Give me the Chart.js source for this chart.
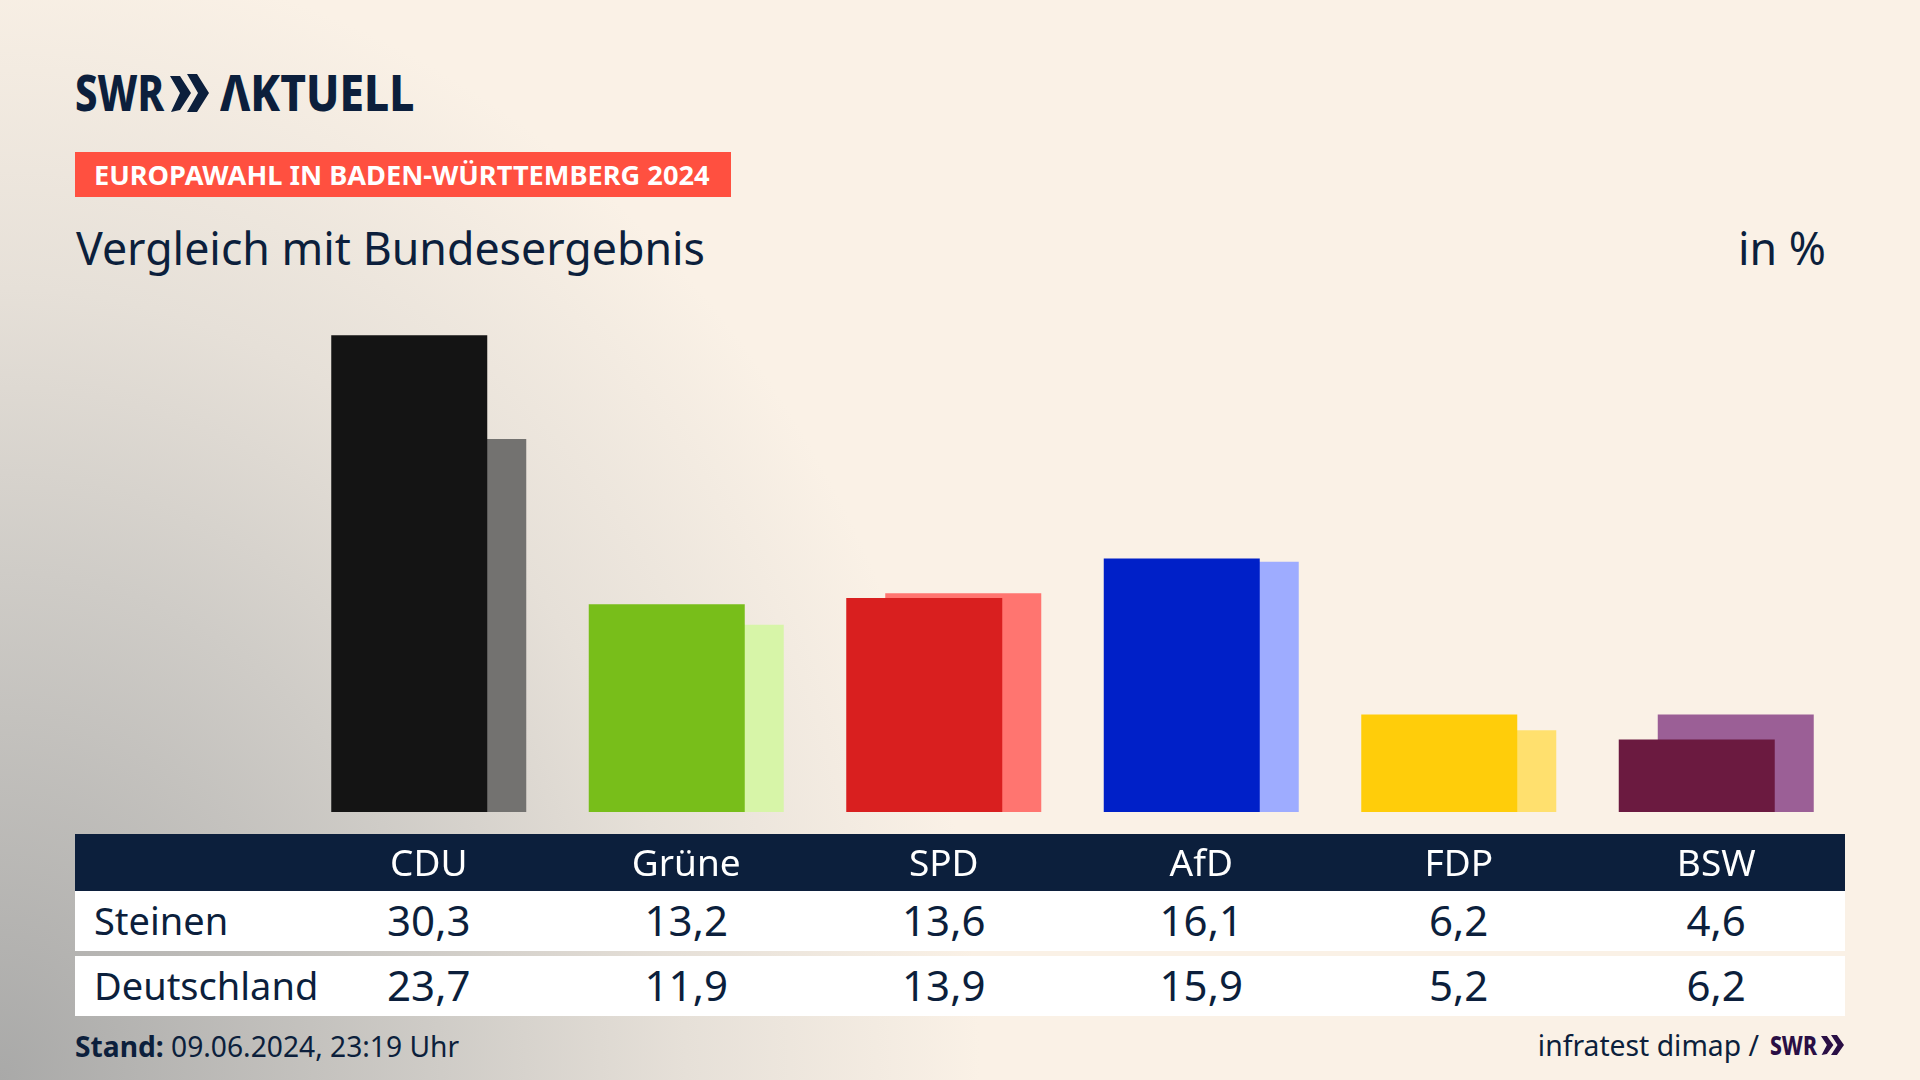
<!DOCTYPE html>
<html lang="de">
<head>
<meta charset="utf-8">
<title>Europawahl in Baden-Württemberg 2024</title>
<script src="https://cdn.jsdelivr.net/npm/chart.js@4/dist/chart.umd.min.js"></script>
<style>
  html, body { margin: 0; padding: 0; }
  body {
    width: 1920px; height: 1080px; position: relative; overflow: hidden;
    font-family: "Noto Sans", sans-serif; color: #0c1f3c;
    background: #faf1e6 radial-gradient(ellipse 980px 1130px at 0 1080px, #a9a9a8 0%, #cfccc7 45%, #e6e0d8 70%, #faf1e6 100%);
  }
  .abs { position: absolute; white-space: nowrap; }
  #logo { left: 75px; top: 74px; height: 37px; width: 340px; }
  #logo span { position: absolute; top: -17px; font-weight: 800; font-size: 50px; line-height: 70px; transform-origin: left center; }
  #logo svg { position: absolute; left: 95px; top: 0; }
  #band { left: 75px; top: 152px; width: 656px; height: 45px; background: #ff5040; color: #fff; font-weight: 700; font-size: 27.2px; line-height: 45px; }
  #band span { position: absolute; left: 19px; }
  #title { left: 76px; top: 216px; font-size: 44.7px; line-height: 64px; }
  #unit { right: 94px; top: 216px; font-size: 44.7px; line-height: 64px; }
  #head { left: 75px; top: 834px; width: 1770px; height: 57px; background: #0c1f3c; }
  #chart { position: absolute; left: 300px; top: 309px; }
  .row { position: absolute; left: 75px; width: 1770px; height: 60px; box-sizing: border-box; padding-bottom: 2px; background: #fff; display: grid; grid-template-columns: 225px repeat(6, 257.5px); align-items: center; font-size: 42px; line-height: 58px; }
  .row div { text-align: center; }
  .row div:first-child { text-align: left; padding-left: 19px; font-size: 38px; }
  #stand { left: 75px; top: 1026px; font-size: 28.2px; line-height: 40px; }
  #source { right: 161px; top: 1025px; font-size: 28.3px; line-height: 40px; }
  #swr2 { left: 1770px; top: 1035px; height: 20px; width: 76px; color: #2a0f45; }
  #swr2 span { position: absolute; top: -9px; left: 0; font-weight: 800; font-size: 27px; line-height: 38px; transform: scaleX(0.78); transform-origin: left center; }
  #swr2 svg { position: absolute; left: 51px; top: 0; }
</style>
</head>
<body>
<div class="abs" id="logo">
  <span style="left:0; transform: scaleX(0.8)">SWR</span>
  <svg width="39" height="38" viewBox="0 0 39 38" fill="#0c1f3c"><polygon points="0,2 10,2 21,19 10,36 1,38 10,19"/><polygon points="17,0 27,0 39,19 27,38 17,38 28,19"/></svg>
  <span style="left:145px; transform: scaleX(0.885)">ΛKTUELL</span>
</div>
<div class="abs" id="band"><span>EUROPAWAHL IN BADEN-WÜRTTEMBERG 2024</span></div>
<div class="abs" id="title">Vergleich mit Bundesergebnis</div>
<div class="abs" id="unit">in %</div>
<div class="abs" id="head"></div>
<canvas id="chart" width="1545" height="582"></canvas>
<div id="rows"></div>
<div class="abs" id="stand"><b>Stand:</b> 09.06.2024, 23:19 Uhr</div>
<div class="abs" id="source">infratest dimap /</div>
<div class="abs" id="swr2">
  <span>SWR</span>
  <svg width="23" height="20" viewBox="0 0 39 38" preserveAspectRatio="none" fill="#2a0f45"><polygon points="0,2 10,2 21,19 10,36 1,38 10,19"/><polygon points="17,0 27,0 39,19 27,38 17,38 28,19"/></svg>
</div>

<script>
const parties = ['CDU', 'Grüne', 'SPD', 'AfD', 'FDP', 'BSW']
const steinen = [30.3, 13.2, 13.6, 16.1, 6.2, 4.6]
const deutschland = [23.7, 11.9, 13.9, 15.9, 5.2, 6.2]
const strongColors = ['#141414', '#78be1a', '#d91f1f', '#0020c8', '#ffcd0a', '#6b1a40']
const lightColors = ['#737270', '#d7f5a8', '#ff7570', '#9eacff', '#ffe06e', '#9b5f96']

// table rows under the chart
const rows = document.getElementById('rows')
function addRow(label, values, top) {
    const row = document.createElement('div')
    row.className = 'row'
    row.style.top = top + 'px'
    const cells = [label].concat(values.map(v => v.toFixed(1).replace('.', ',')))
    for (let i = 0; i < cells.length; i++) {
        const cell = document.createElement('div')
        cell.textContent = cells[i]
        row.appendChild(cell)
    }
    rows.appendChild(row)
}
addRow('Steinen', steinen, 891)
addRow('Deutschland', deutschland, 956)

// bars overlap: barPercentage above 1 makes each bar wider than its slot
const ctx = document.getElementById('chart').getContext('2d')
new Chart(ctx, {
    type: 'bar',
    data: {
        labels: parties,
        datasets: [
            { label: 'Steinen', data: steinen, backgroundColor: strongColors },
            { label: 'Deutschland', data: deutschland, backgroundColor: lightColors }
        ]
    },
    options: {
        responsive: false,
        devicePixelRatio: 1,
        animation: false,
        layout: { padding: 0 },
        datasets: { bar: { categoryPercentage: 78 / 257.5, barPercentage: 4 } },
        plugins: { legend: { display: false }, tooltip: { enabled: false } },
        scales: {
            x: {
                grid: { display: false },
                border: { display: false },
                afterFit: scale => { scale.height = 79 },
                ticks: {
                    color: '#ffffff',
                    padding: 23,
                    maxRotation: 0,
                    autoSkip: false,
                    font: { family: '"Noto Sans"', size: 37 }
                }
            },
            y: { display: false, min: 0, max: 31.96 }
        }
    }
})
</script>
</body>
</html>
